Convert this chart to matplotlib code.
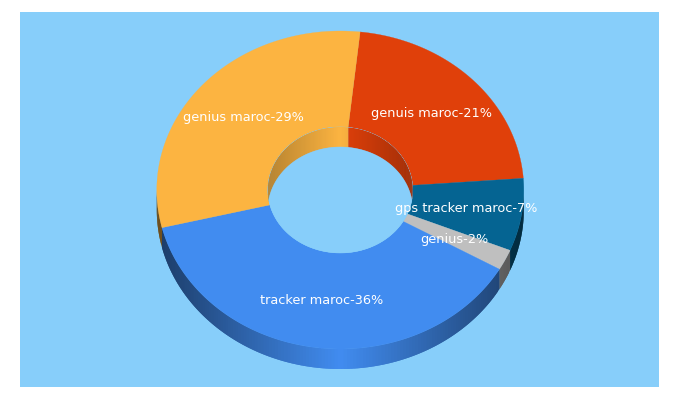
import numpy as np
import matplotlib
matplotlib.use("Agg")
import matplotlib.pyplot as plt
from matplotlib.patches import Polygon, Rectangle

categories = ["genuis maroc", "gps tracker maroc", "genius", "tracker maroc", "genius maroc"]
percents = [21, 7, 2, 36, 29]
colors = ["#E0400A", "#056492", "#BFBFBF", "#418CF0", "#FCB441"]

BG = "#87CEFA"
CX, CY = 340.3, 190.0
RX, RY = 183.5, 159.0
IRX, IRY = 72.5, 63.0
DEPTH = 20.0
START = 6.2

fig = plt.figure(figsize=(6.8, 4.0), dpi=100, facecolor="white")
ax = fig.add_axes([0, 0, 1, 1])
ax.set_xlim(0, 680)
ax.set_ylim(400, 0)
ax.axis("off")
ax.add_patch(Rectangle((20, 12), 639, 375, fc=BG, ec="none", zorder=0))


def pt(theta, rx, ry, dz=0.0):
    t = np.radians(theta)
    return CX + rx * np.sin(t), CY - ry * np.cos(t) + dz


def shade(color, f):
    rgb = np.array(matplotlib.colors.to_rgb(color))
    return tuple(np.clip(rgb * f, 0, 1))


def wall(color, lo, hi, rx, ry, strength, zorder, clip=None):
    """Shaded wall made of overlapping strips, so that no seams show."""
    steps = np.arange(lo, hi, 1.0)
    for s0 in steps:
        s1 = min(hi, s0 + 2.0)
        f = 1 - strength * abs(np.sin(np.radians(s0 + 0.5)))
        th = np.linspace(s0, s1, 5)
        xt, yt = pt(th, rx, ry)
        xb, yb = pt(th[::-1], rx, ry, DEPTH)
        p = Polygon(np.c_[np.r_[xt, xb], np.r_[yt, yb]], fc=shade(color, f), ec="none", zorder=zorder)
        ax.add_patch(p)
        if clip is not None:
            p.set_clip_path(clip)


total = sum(percents)
edges = START + 360.0 * np.concatenate([[0], np.cumsum(percents)]) / total

# outer wall (front half)
for c, a0, a1 in zip(colors, edges[:-1], edges[1:]):
    lo, hi = max(a0, 90), min(a1, 270)
    if hi > lo:
        wall(c, lo, hi, RX, RY, 0.57, 1)

# top faces
for c, a0, a1 in zip(colors, edges[:-1], edges[1:]):
    th = np.linspace(a0, a1, 200)
    x, y = pt(th, RX, RY)
    xi, yi = pt(th[::-1], IRX, IRY)
    ax.add_patch(Polygon(np.c_[np.r_[x, xi], np.r_[y, yi]], fc=c, ec=c, lw=0.2, zorder=2))

# hole
th = np.linspace(0, 360, 361)
hx, hy = pt(th, IRX, IRY)
ax.add_patch(Polygon(np.c_[hx, hy], fc=BG, ec=BG, lw=0.3, zorder=3))

# inner wall (back half)
hole_clip = Polygon(np.c_[hx, hy], transform=ax.transData)
for c, a0, a1 in zip(colors, edges[:-1], edges[1:]):
    for shift in (0, -360):
        lo, hi = max(a0 + shift, -90), min(a1 + shift, 90)
        if hi > lo:
            wall(c, lo, hi, IRX, IRY, 0.27, 4, clip=hole_clip)

# hole floor: the part of the hole not covered by the dropped wall
fx, fy = pt(th, IRX, IRY, DEPTH)
floor = Polygon(np.c_[fx, fy], fc=BG, ec=BG, lw=0.3, zorder=5)
ax.add_patch(floor)
floor.set_clip_path(hole_clip)

# labels at the middle of each ring slice
mid_rx, mid_ry = (RX + IRX) / 2, (RY + IRY) / 2
for name, p, a0, a1 in zip(categories, percents, edges[:-1], edges[1:]):
    lx, ly = pt((a0 + a1) / 2, mid_rx, mid_ry)
    ax.text(lx - 0.5, ly + 0.7, f"{name}-{p}%", color="white", fontsize=9.25, family="DejaVu Sans",
            ha="center", va="center", zorder=6)

fig.savefig("out.png", dpi=100, facecolor="white")
